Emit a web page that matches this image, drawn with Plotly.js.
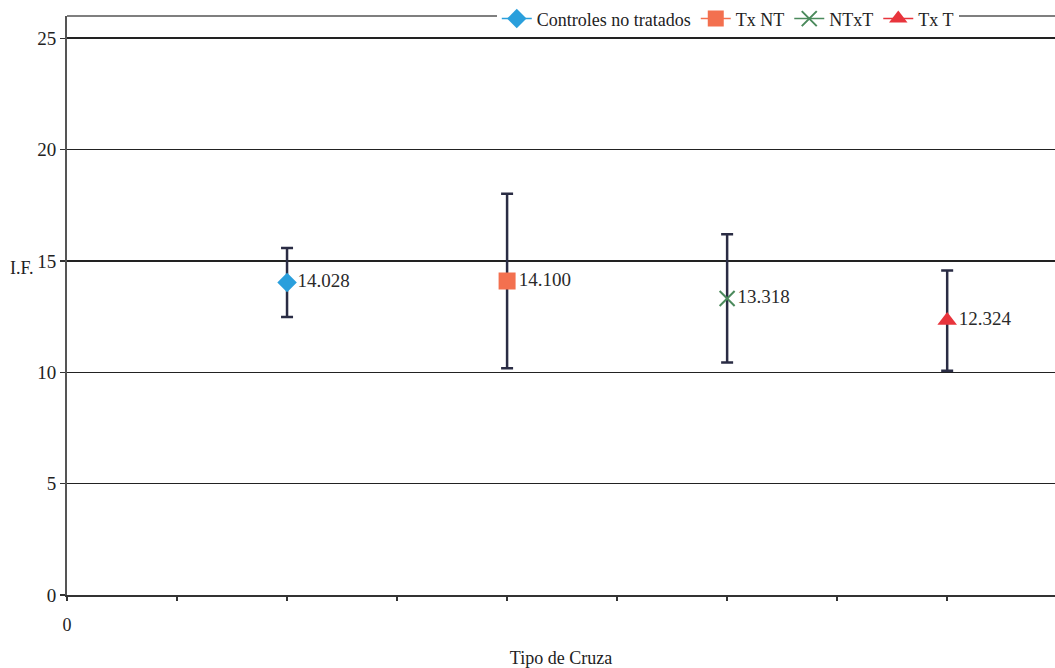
<!DOCTYPE html>
<html>
<head>
<meta charset="utf-8">
<script src="https://cdn.plot.ly/plotly-3.0.1.min.js"></script>
<style>html,body{margin:0;padding:0;background:#fff;}#chart{width:1055px;height:668px;}</style>
</head>
<body>
<div id="chart"></div>
<script>
// Data
const seriesNames = ["Controles no tratados", "Tx NT", "NTxT", "Tx T"];
const xPositions = [1, 2, 3, 4];
const meanValues = [14.028, 14.100, 13.318, 12.324];
const errorValues = [1.55, 3.92, 2.88, 2.25];
const valueLabels = ["14.028", "14.100", "13.318", "12.324"];
const yTickVals = [0, 5, 10, 15, 20, 25];
const xTickVals = [0, 0.5, 1, 1.5, 2, 2.5, 3, 3.5, 4, 4.5];
const xTickText = ["0", "", "", "", "", "", "", "", "", ""];

const markerSymbols = ["diamond", "square", "x-thin-open", "triangle-up"];
const markerColors = ["#2a9fdc", "#f3704f", "#4b8a5c", "#e8343c"];
const markerSizes = [15, 17, 15, 17];

const serif = "Liberation Serif, Times New Roman, serif";

const traces = seriesNames.map((name, i) => ({
  type: "scatter",
  mode: "lines+markers+text",
  name: name,
  x: [xPositions[i]],
  y: [meanValues[i]],
  text: [valueLabels[i]],
  textposition: "middle right",
  textfont: {family: serif, size: 19, color: "#2a2a2a"},
  line: {color: markerColors[i], width: 1.5},
  marker: {
    symbol: markerSymbols[i],
    color: markerColors[i],
    size: markerSizes[i],
    line: {color: markerColors[i], width: markerSymbols[i].startsWith("x") ? 2 : 0}
  },
  error_y: {
    type: "data",
    array: [errorValues[i]],
    visible: true,
    color: "#2a2c44",
    thickness: 2.5,
    width: 6
  },
  cliponaxis: false
}));

const layout = {
  width: 1055,
  height: 668,
  margin: {l: 67, r: 0, t: 16, b: 73},
  paper_bgcolor: "#ffffff",
  plot_bgcolor: "#ffffff",
  font: {family: serif, size: 18, color: "#222"},
  showlegend: true,
  legend: {
    orientation: "h",
    x: 0.435, xanchor: "left",
    y: 0.995, yanchor: "middle",
    bgcolor: "#ffffff",
    font: {family: serif, size: 18, color: "#222"},
    itemwidth: 30,
    tracegroupgap: 0
  },
  xaxis: {
    range: [0, 4.49],
    tickmode: "array",
    tickvals: xTickVals,
    ticktext: xTickText,
    ticks: "outside",
    ticklen: 4,
    tickwidth: 1.5,
    tickcolor: "#333",
    ticklabelstandoff: 8,
    showgrid: false,
    zeroline: false,
    showline: true,
    linecolor: "#333",
    linewidth: 2,
    tickfont: {family: serif, size: 18, color: "#222"},
    title: {text: "Tipo de Cruza", font: {family: serif, size: 18, color: "#222"}, standoff: 20}
  },
  yaxis: {
    range: [0, 26],
    tickmode: "array",
    tickvals: yTickVals,
    ticks: "outside",
    ticklen: 5,
    tickwidth: 1.5,
    tickcolor: "#333",
    showgrid: true,
    gridcolor: "#222",
    gridwidth: 1.6,
    zeroline: false,
    showline: true,
    linecolor: "#555",
    linewidth: 2,
    tickfont: {family: serif, size: 19, color: "#222"}
  },
  shapes: [
    {type: "line", xref: "paper", yref: "paper", x0: 0, x1: 1, y0: 1, y1: 1,
     line: {color: "#555", width: 1.5}}
  ],
  annotations: [
    {text: "I.F.", xref: "paper", yref: "paper", x: -0.046, y: 0.565,
     xanchor: "center", yanchor: "middle", showarrow: false,
     font: {family: serif, size: 18, color: "#222"}}
  ]
};

Plotly.newPlot("chart", traces, layout, {displayModeBar: false, staticPlot: true});
</script>
</body>
</html>
